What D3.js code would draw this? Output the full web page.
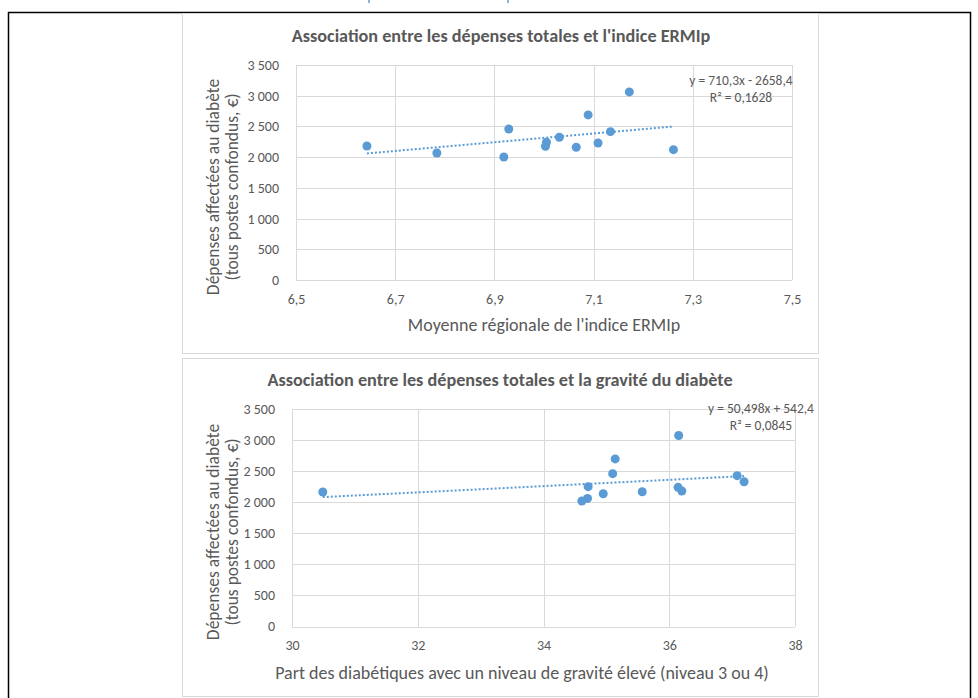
<!DOCTYPE html>
<html>
<head>
<meta charset="utf-8">
<script src="https://cdn.jsdelivr.net/npm/d3@7"></script>
<style>
  body { margin: 0; background: #fff; }
  svg { display: block; }
  text { font-family: "Carlito", "Calibri", "Lato", "Open Sans", sans-serif; fill: #595959; }
</style>
</head>
<body>
<svg id="chart"></svg>
<script>
// chart 1 : ERMIp index vs spending
const ermipX = [6.643, 6.784, 6.919, 6.929, 7.003, 7.005, 7.031, 7.065, 7.089, 7.109, 7.134, 7.172, 7.261];
const ermipY = [2182, 2068, 2003, 2459, 2178, 2243, 2324, 2161, 2687, 2231, 2415, 3062, 2122];
const ermipTicksX = [6.5, 6.7, 6.9, 7.1, 7.3, 7.5];
const ermipFit = { slope: 710.3, intercept: -2658.4, label: "y = 710,3x - 2658,4", r2: "R² = 0,1628" };

// chart 2 : severity share vs spending
const gravX = [30.49, 34.61, 34.70, 34.71, 34.95, 35.10, 35.14, 35.57, 36.15, 36.14, 36.20, 37.08, 37.19];
const gravY = [2165, 2019, 2061, 2250, 2137, 2460, 2697, 2169, 3073, 2239, 2181, 2427, 2330];
const gravTicksX = [30, 32, 34, 36, 38];
const gravFit = { slope: 50.498, intercept: 542.4, label: "y = 50,498x + 542,4", r2: "R² = 0,0845" };

const yTicks = [0, 500, 1000, 1500, 2000, 2500, 3000, 3500];
const yTitle = ["Dépenses affectées au diabète", "(tous postes confondus, €)"];

const W = 978, H = 698;
const svg = d3.select("#chart").attr("width", W).attr("height", H);

// outer frame (black) and the cut-off text above it
svg.append("path")
  .attr("d", `M8.5,${H} V12.5 H970.5 V${H}`)
  .attr("fill", "none").attr("stroke", "#000").attr("stroke-width", 1.5);
svg.selectAll("line.cut").data([369, 508]).enter().append("line")
  .attr("x1", d => d).attr("x2", d => d).attr("y1", 0).attr("y2", 3)
  .attr("stroke", "#5b9bd5").attr("stroke-width", 1.5);

const fmt = v => d3.format(",")(v).replace(/,/g, " ");
const fmtX = v => String(v).replace(".", ",");

function drawPanel(cfg) {
  const g = svg.append("g");
  g.append("rect")
    .attr("x", cfg.box[0] + 0.5).attr("y", cfg.box[1] + 0.5)
    .attr("width", cfg.box[2]).attr("height", cfg.box[3])
    .attr("fill", "#fff").attr("stroke", "#d9d9d9");

  const x = d3.scaleLinear().domain(cfg.xDomain).range(cfg.xRange);
  const y = d3.scaleLinear().domain([0, 3500]).range(cfg.yRange);

  // gridlines
  g.append("g").selectAll("line").data(yTicks).enter().append("line")
    .attr("x1", cfg.xRange[0]).attr("x2", cfg.xRange[1])
    .attr("y1", d => Math.round(y(d)) + 0.5).attr("y2", d => Math.round(y(d)) + 0.5)
    .attr("stroke", "#d9d9d9");
  g.append("g").selectAll("line").data(cfg.xTicks).enter().append("line")
    .attr("y1", cfg.yRange[0]).attr("y2", cfg.yRange[1])
    .attr("x1", d => Math.round(x(d)) + 0.5).attr("x2", d => Math.round(x(d)) + 0.5)
    .attr("stroke", "#d9d9d9");

  // axes (labels only, Excel style)
  const ay = g.append("g")
    .attr("transform", `translate(${cfg.xRange[0] - 14},0)`)
    .call(d3.axisLeft(y).tickValues(yTicks).tickFormat(fmt).tickSize(0));
  ay.select(".domain").remove();
  ay.selectAll("text").attr("font-size", 14).attr("fill", "#595959")
    .style("font-family", null);

  const ax = g.append("g")
    .attr("transform", `translate(0,${cfg.yRange[0] + 11})`)
    .call(d3.axisBottom(x).tickValues(cfg.xTicks).tickFormat(fmtX).tickSize(0));
  ax.select(".domain").remove();
  ax.selectAll("text").attr("font-size", 14).attr("fill", "#595959")
    .style("font-family", null);

  // trendline
  const xs = d3.extent(cfg.xs);
  const f = cfg.fit;
  g.append("line")
    .attr("x1", x(xs[0])).attr("y1", y(f.slope * xs[0] + f.intercept))
    .attr("x2", x(xs[1])).attr("y2", y(f.slope * xs[1] + f.intercept))
    .attr("stroke", "#5b9bd5").attr("stroke-width", 2).attr("stroke-dasharray", "2,2");

  // points
  g.append("g").selectAll("circle").data(cfg.xs.map((v, i) => [v, cfg.ys[i]])).enter()
    .append("circle")
    .attr("cx", d => x(d[0])).attr("cy", d => y(d[1])).attr("r", 4.5)
    .attr("fill", "#5b9bd5");

  // equation label
  const eq = g.append("text").attr("text-anchor", "middle").attr("font-size", 13.5);
  eq.append("tspan").attr("x", cfg.eqPos[0]).attr("y", cfg.eqPos[1]).text(f.label);
  eq.append("tspan").attr("x", cfg.eqPos[0]).attr("y", cfg.eqPos[1] + 17).text(f.r2);

  // title
  g.append("text").attr("x", cfg.titlePos[0]).attr("y", cfg.titlePos[1])
    .attr("text-anchor", "middle").attr("font-size", 18.2).attr("font-weight", "bold")
    .attr("fill", "#595959").text(cfg.title);

  // axis titles
  g.append("text").attr("x", cfg.xTitlePos[0]).attr("y", cfg.xTitlePos[1])
    .attr("text-anchor", "middle").attr("font-size", 18).text(cfg.xTitle);
  const yt = g.append("text").attr("text-anchor", "middle").attr("font-size", 17.5)
    .attr("transform", `translate(${cfg.yTitlePos[0]},${cfg.yTitlePos[1]}) rotate(-90)`);
  yt.append("tspan").attr("x", 0).attr("y", 0).text(yTitle[0]);
  yt.append("tspan").attr("x", 0).attr("y", 19).text(yTitle[1]);
}

drawPanel({
  box: [182, 13, 636, 340],
  xDomain: [6.5, 7.5], xRange: [296, 792], yRange: [280, 65],
  xTicks: ermipTicksX, xs: ermipX, ys: ermipY, fit: ermipFit,
  eqPos: [741, 85], titlePos: [501, 42],
  title: "Association  entre les dépenses totales et l'indice ERMIp",
  xTitle: "Moyenne régionale de l'indice ERMIp", xTitlePos: [544, 331],
  yTitlePos: [219, 187]
});

drawPanel({
  box: [182, 358, 636, 338],
  xDomain: [30, 38], xRange: [292, 795], yRange: [626.5, 409],
  xTicks: gravTicksX, xs: gravX, ys: gravY, fit: gravFit,
  eqPos: [761, 413], titlePos: [500, 386],
  title: "Association  entre les dépenses totales et la gravité du diabète",
  xTitle: "Part des diabétiques avec un niveau de gravité élevé (niveau 3 ou 4)", xTitlePos: [522, 679],
  yTitlePos: [219, 532]
});
</script>
</body>
</html>
